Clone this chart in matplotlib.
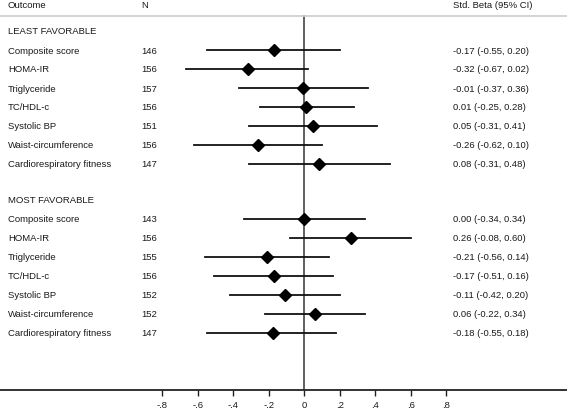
import matplotlib
matplotlib.use("Agg")
import matplotlib.pyplot as plt
import matplotlib.transforms as mtransforms

plt.rcParams['font.family'] = ['Liberation Sans', 'DejaVu Sans']

groups = ["LEAST FAVORABLE", "MOST FAVORABLE"]
outcomes = ["Composite score", "HOMA-IR", "Triglyceride", "TC/HDL-c",
            "Systolic BP", "Waist-circumference", "Cardiorespiratory fitness"]
n_least = [146, 156, 157, 156, 151, 156, 147]
beta_least = [-0.17, -0.32, -0.01, 0.01, 0.05, -0.26, 0.08]
lo_least = [-0.55, -0.67, -0.37, -0.25, -0.31, -0.62, -0.31]
hi_least = [0.20, 0.02, 0.36, 0.28, 0.41, 0.10, 0.48]
n_most = [143, 156, 155, 156, 152, 152, 147]
beta_most = [0.00, 0.26, -0.21, -0.17, -0.11, 0.06, -0.18]
lo_most = [-0.34, -0.08, -0.56, -0.51, -0.42, -0.22, -0.55]
hi_most = [0.34, 0.60, 0.14, 0.16, 0.20, 0.34, 0.18]
xticks = [-0.8, -0.6, -0.4, -0.2, 0, 0.2, 0.4, 0.6, 0.8]
xticklabels = ["-.8", "-.6", "-.4", "-.2", "0", ".2", ".4", ".6", ".8"]

W, H = 567, 410
fig = plt.figure(figsize=(W / 100, H / 100), dpi=100)
axis_y = 390.5
ax = fig.add_axes([0, (H - axis_y) / H, 1, axis_y / H])
zero_px, unit_px = 304.5, 177.5
ax.set_xlim(-zero_px / unit_px, (W - zero_px) / unit_px)
ax.set_ylim(axis_y, 0)

fs = 6.8
tc = "#1a1a1a"
for s in ["top", "left", "right"]:
    ax.spines[s].set_visible(False)
ax.spines["bottom"].set_linewidth(1.3)
ax.spines["bottom"].set_color("#222222")
ax.set_yticks([])
ax.set_xticks(xticks)
ax.set_xticklabels(xticklabels, fontsize=fs, color=tc)
ax.tick_params(axis="x", direction="out", length=4.5, width=1.0, color="#222222", pad=3.0)

blend = mtransforms.blended_transform_factory(fig.transFigure, ax.transData)

# header
ax.text(8 / W, 5, "Outcome", transform=blend, fontsize=fs, va="center", ha="left", color=tc)
ax.text(141 / W, 5, "N", transform=blend, fontsize=fs, va="center", ha="left", color=tc)
ax.text(453 / W, 5, "Std. Beta (95% CI)", transform=blend, fontsize=fs, va="center", ha="left", color=tc)
ax.axhline(16.5, color="#cccccc", lw=1.2)

ax.plot([0, 0], [17, axis_y], color="#444444", lw=1.2, zorder=1)

row_step = 19
starts = [32, 201]
data = [(n_least, beta_least, lo_least, hi_least), (n_most, beta_most, lo_most, hi_most)]
for g, y0, (ns, bs, los, his) in zip(groups, starts, data):
    ax.text(8 / W, y0, g, transform=blend, fontsize=fs, va="center", ha="left", color=tc)
    for i, name in enumerate(outcomes):
        y = y0 + row_step * (i + 1)
        ax.text(8 / W, y, name, transform=blend, fontsize=fs, va="center", ha="left", color=tc)
        ax.text(141 / W, y, str(ns[i]), transform=blend, fontsize=fs, va="center", ha="left", color=tc)
        ax.text(453 / W, y, f"{bs[i]:.2f} ({los[i]:.2f}, {his[i]:.2f})", transform=blend,
                fontsize=fs, va="center", ha="left", color=tc)
        ax.plot([los[i], his[i]], [y, y], color="#111111", lw=1.3, zorder=2)
        ax.plot([bs[i]], [y], marker="D", color="#000000", markersize=6.0, zorder=3)

fig.savefig("out.png", dpi=100)
